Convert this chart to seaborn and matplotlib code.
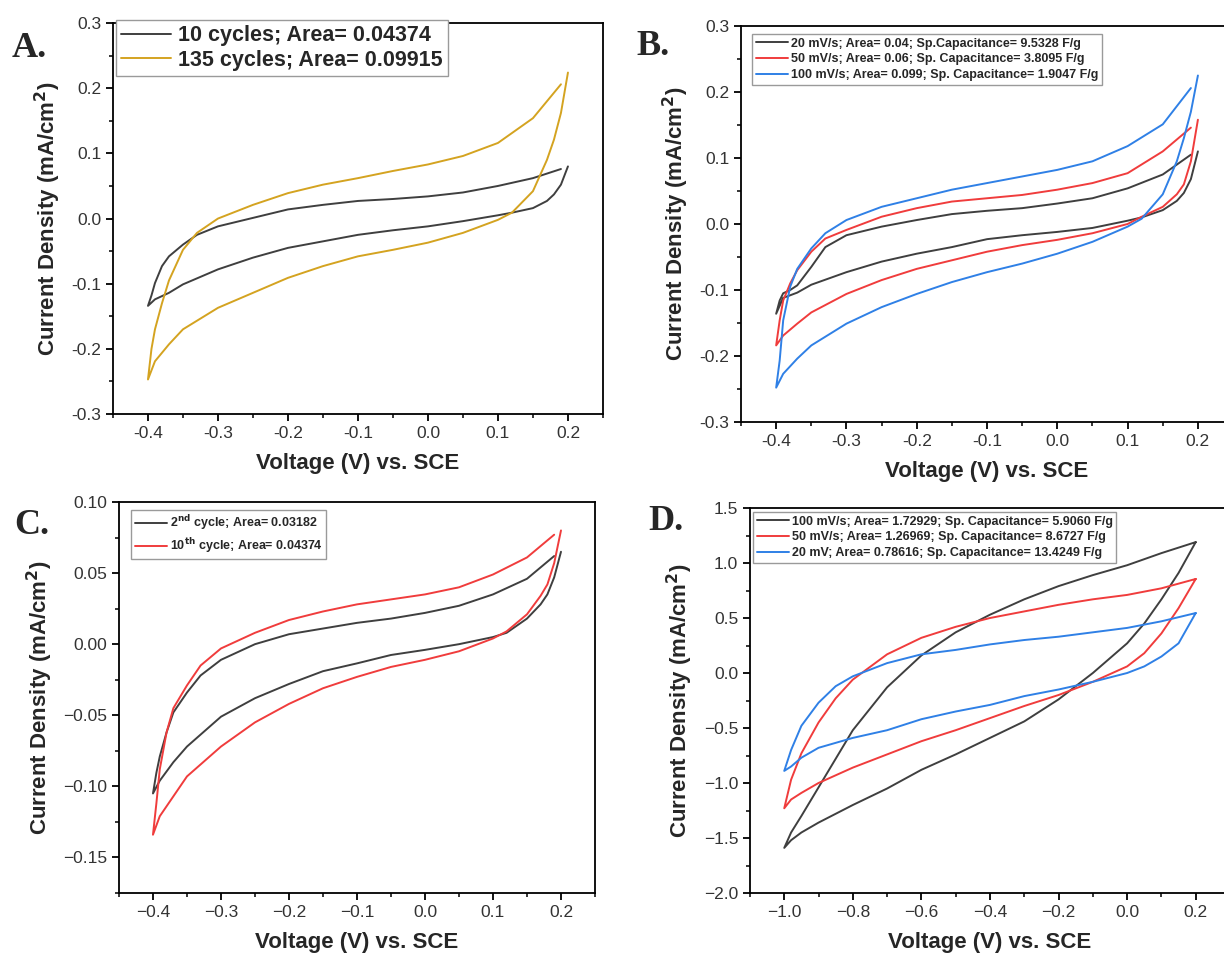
import matplotlib
matplotlib.use("Agg")
import matplotlib.pyplot as plt
import matplotlib.ticker as mticker
import pandas as pd
import seaborn as sns

# ---- data ----
# panels A-C: upper (anodic) branch voltages and lower branch voltages
V_UP = [-0.4, -0.395, -0.39, -0.38, -0.37, -0.35, -0.33, -0.3, -0.25, -0.2,
        -0.15, -0.1, -0.05, 0.0, 0.05, 0.1, 0.15, 0.19]
V_DN = [-0.4, -0.39, -0.37, -0.35, -0.3, -0.25, -0.2, -0.15, -0.1, -0.05,
        0.0, 0.05, 0.1, 0.12, 0.15, 0.17, 0.18, 0.19, 0.2]

# A: 10 vs 135 cycles
a10_up = [-0.134, -0.118, -0.099, -0.073, -0.058, -0.040, -0.025, -0.012, 0.001, 0.014,
          0.021, 0.027, 0.030, 0.034, 0.040, 0.050, 0.062, 0.076]
a10_dn = [-0.134, -0.124, -0.114, -0.101, -0.078, -0.060, -0.045, -0.035, -0.025, -0.018,
          -0.012, -0.004, 0.005, 0.009, 0.016, 0.027, 0.037, 0.052, 0.080]
a135_up = [-0.247, -0.200, -0.170, -0.130, -0.095, -0.048, -0.022, 0.000, 0.021, 0.039,
           0.052, 0.062, 0.073, 0.083, 0.096, 0.116, 0.154, 0.206]
a135_dn = [-0.247, -0.219, -0.193, -0.170, -0.137, -0.114, -0.091, -0.073, -0.058, -0.048,
           -0.037, -0.022, -0.002, 0.009, 0.042, 0.090, 0.121, 0.162, 0.224]

# B: scan rates 20 / 50 / 100 mV/s
b20_up = [-0.136, -0.116, -0.105, -0.100, -0.093, -0.065, -0.035, -0.017, -0.004, 0.006,
          0.015, 0.020, 0.024, 0.031, 0.039, 0.054, 0.075, 0.105]
b20_dn = [-0.136, -0.112, -0.104, -0.092, -0.073, -0.057, -0.045, -0.035, -0.023, -0.017,
          -0.012, -0.006, 0.005, 0.010, 0.021, 0.035, 0.047, 0.068, 0.110]
b50_up = [-0.184, -0.146, -0.116, -0.090, -0.070, -0.042, -0.022, -0.009, 0.011, 0.024,
          0.034, 0.039, 0.044, 0.052, 0.062, 0.077, 0.110, 0.146]
b50_dn = [-0.184, -0.169, -0.151, -0.134, -0.106, -0.085, -0.068, -0.055, -0.042, -0.032,
          -0.024, -0.014, 0.000, 0.011, 0.026, 0.045, 0.060, 0.095, 0.158]
b100_up = [-0.248, -0.207, -0.146, -0.095, -0.068, -0.037, -0.014, 0.006, 0.026, 0.039,
           0.052, 0.062, 0.072, 0.082, 0.095, 0.118, 0.151, 0.206]
b100_dn = [-0.248, -0.227, -0.204, -0.184, -0.151, -0.126, -0.106, -0.088, -0.073, -0.060,
           -0.045, -0.027, -0.004, 0.008, 0.045, 0.095, 0.130, 0.170, 0.225]

# C: 2nd vs 10th cycle
c2_up = [-0.105, -0.0905, -0.079, -0.062, -0.048, -0.034, -0.022, -0.011, 0.000, 0.007,
         0.011, 0.015, 0.018, 0.022, 0.027, 0.035, 0.046, 0.062]
c2_dn = [-0.105, -0.096, -0.083, -0.072, -0.051, -0.038, -0.028, -0.019, -0.0135, -0.0076,
         -0.004, 0.000, 0.005, 0.008, 0.018, 0.028, 0.035, 0.047, 0.065]
c10_up = [-0.134, -0.112, -0.088, -0.062, -0.045, -0.029, -0.015, -0.003, 0.008, 0.017,
          0.023, 0.028, 0.0315, 0.035, 0.040, 0.049, 0.061, 0.077]
c10_dn = [-0.134, -0.121, -0.107, -0.093, -0.072, -0.055, -0.042, -0.031, -0.023, -0.016,
          -0.011, -0.005, 0.004, 0.009, 0.021, 0.034, 0.042, 0.057, 0.080]

# D: wider window
VD_UP = [-1.0, -0.98, -0.95, -0.9, -0.85, -0.8, -0.7, -0.6, -0.5, -0.4, -0.3, -0.2, -0.1, 0.0, 0.1, 0.2]
VD_DN = [-1.0, -0.98, -0.95, -0.9, -0.8, -0.7, -0.6, -0.5, -0.4, -0.3, -0.2, -0.1, 0.0, 0.05, 0.1, 0.15, 0.2]
d100_up = [-1.59, -1.45, -1.30, -1.04, -0.78, -0.52, -0.13, 0.16, 0.37, 0.53, 0.67, 0.79, 0.89, 0.98, 1.09, 1.19]
d100_dn = [-1.59, -1.52, -1.45, -1.36, -1.20, -1.05, -0.88, -0.74, -0.59, -0.44, -0.24, 0.00, 0.27, 0.45, 0.67, 0.91, 1.19]
d50_up = [-1.23, -0.97, -0.73, -0.45, -0.23, -0.06, 0.17, 0.32, 0.42, 0.50, 0.56, 0.62, 0.67, 0.71, 0.77, 0.855]
d50_dn = [-1.23, -1.15, -1.09, -1.00, -0.86, -0.74, -0.62, -0.52, -0.41, -0.30, -0.20, -0.08, 0.06, 0.18, 0.36, 0.59, 0.855]
d20_up = [-0.89, -0.70, -0.48, -0.27, -0.12, -0.03, 0.09, 0.17, 0.21, 0.26, 0.30, 0.33, 0.37, 0.41, 0.47, 0.545]
d20_dn = [-0.89, -0.85, -0.77, -0.68, -0.59, -0.52, -0.42, -0.35, -0.29, -0.21, -0.15, -0.08, 0.00, 0.06, 0.15, 0.27, 0.545]

GRAY = "#3f3f3f"
GOLD = "#d4a320"
RED = "#f03c3c"
BLUE = "#2f80e6"

sns.set_theme(style="ticks")
plt.rcParams["font.family"] = ["Liberation Sans", "DejaVu Sans"]
plt.rcParams["axes.unicode_minus"] = False


def loop(v_up, i_up, v_dn, i_dn):
    # trace the upper branch backwards, then the lower branch forwards
    return pd.DataFrame({"V": v_up[::-1] + v_dn[1:], "I": i_up[::-1] + i_dn[1:]})


def style_axis(ax, xlim, ylim, xmaj, ymaj, yfmt, minus):
    ax.set_xlim(*xlim)
    ax.set_ylim(*ylim)
    ax.xaxis.set_major_locator(mticker.MultipleLocator(xmaj))
    ax.xaxis.set_minor_locator(mticker.MultipleLocator(xmaj / 2))
    ax.yaxis.set_major_locator(mticker.MultipleLocator(ymaj))
    ax.yaxis.set_minor_locator(mticker.MultipleLocator(ymaj / 2))
    ax.xaxis.set_major_formatter(mticker.FuncFormatter(
        lambda v, p: f"{v:.1f}".replace("-", minus) if abs(v) > 1e-9 else "0.0"))
    ax.yaxis.set_major_formatter(mticker.FuncFormatter(
        lambda v, p: f"{v:.{yfmt}f}".replace("-", minus) if abs(v) > 1e-9 else f"{0:.{yfmt}f}"))
    for s in ax.spines.values():
        s.set_linewidth(1.3)
        s.set_color("black")
        s.set_visible(True)
    ax.tick_params(which="major", direction="out", length=5, width=1.3,
                   labelsize=12.5, labelcolor="#333333", color="black")
    ax.tick_params(which="minor", direction="out", length=3, width=1.1, color="black")
    ax.set_xlabel("Voltage (V) vs. SCE", fontsize=16, fontweight="bold", labelpad=9)
    ax.set_ylabel("Current Density (mA/cm$^\\mathbf{2}$)", fontsize=16, fontweight="bold", labelpad=6)
    ax.grid(False)


fig = plt.figure(figsize=(12.24, 9.56), dpi=100)
axA = fig.add_axes([0.0923, 0.5669, 0.4003, 0.4090])
axB = fig.add_axes([0.6054, 0.5586, 0.4020, 0.4142])
axC = fig.add_axes([0.0972, 0.0659, 0.3889, 0.4090])
axD = fig.add_axes([0.6127, 0.0659, 0.3922, 0.4027])

LW = 1.4
small_leg = dict(loc="upper left", borderaxespad=0, fancybox=False, framealpha=1,
                 edgecolor="#9a9a9a", prop={"weight": "bold", "size": 9},
                 handlelength=2.6, handletextpad=0.2, labelspacing=0.3, borderpad=0.3)

# ---- A ----
series_a = [(a10_up, a10_dn, GRAY, "10 cycles; Area= 0.04374"),
            (a135_up, a135_dn, GOLD, "135 cycles; Area= 0.09915")]
for up, dn, col, lab in series_a:
    sns.lineplot(data=loop(V_UP, up, V_DN, dn), x="V", y="I", sort=False, estimator=None,
                 color=col, lw=LW, label=lab, ax=axA)
style_axis(axA, (-0.45, 0.25), (-0.3, 0.3), 0.1, 0.1, 1, "-")
axA.legend(loc="upper left", bbox_to_anchor=(0.006, 1.008), borderaxespad=0, fancybox=False,
           framealpha=1, edgecolor="#9a9a9a", prop={"weight": "bold", "size": 15.5},
           handlelength=2.3, handletextpad=0.35, labelspacing=0.15, borderpad=0.25)

# ---- B ----
series_b = [(b20_up, b20_dn, GRAY, "20 mV/s; Area= 0.04; Sp.Capacitance= 9.5328 F/g"),
            (b50_up, b50_dn, RED, "50 mV/s; Area= 0.06; Sp. Capacitance= 3.8095 F/g"),
            (b100_up, b100_dn, BLUE, "100 mV/s; Area= 0.099; Sp. Capacitance= 1.9047 F/g")]
for up, dn, col, lab in series_b:
    sns.lineplot(data=loop(V_UP, up, V_DN, dn), x="V", y="I", sort=False, estimator=None,
                 color=col, lw=LW, label=lab, ax=axB)
style_axis(axB, (-0.45, 0.25), (-0.3, 0.3), 0.1, 0.1, 1, "-")
axB.legend(bbox_to_anchor=(0.022, 0.98), **small_leg)

# ---- C ----
series_c = [(c2_up, c2_dn, GRAY, "2$^{\\mathbf{nd}}$ cycle; Area= 0.03182"),
            (c10_up, c10_dn, RED, "10$^{\\mathbf{th}}$ cycle; Area= 0.04374")]
for up, dn, col, lab in series_c:
    sns.lineplot(data=loop(V_UP, up, V_DN, dn), x="V", y="I", sort=False, estimator=None,
                 color=col, lw=LW, label=lab, ax=axC)
style_axis(axC, (-0.45, 0.25), (-0.175, 0.10), 0.1, 0.05, 2, "\u2212")
axC.legend(bbox_to_anchor=(0.025, 0.98), **small_leg)

# ---- D ----
series_d = [(d100_up, d100_dn, GRAY, "100 mV/s; Area= 1.72929; Sp. Capacitance= 5.9060 F/g"),
            (d50_up, d50_dn, RED, "50 mV/s; Area= 1.26969; Sp. Capacitance= 8.6727 F/g"),
            (d20_up, d20_dn, BLUE, "20 mV; Area= 0.78616; Sp. Capacitance= 13.4249 F/g")]
for up, dn, col, lab in series_d:
    sns.lineplot(data=loop(VD_UP, up, VD_DN, dn), x="V", y="I", sort=False, estimator=None,
                 color=col, lw=LW, label=lab, ax=axD)
style_axis(axD, (-1.1, 0.3), (-2.0, 1.5), 0.2, 0.5, 1, "\u2212")
axD.legend(bbox_to_anchor=(0.006, 0.99), **small_leg)

# panel letters
letter_font = dict(fontsize=26, fontweight="bold", family=["Liberation Serif", "DejaVu Serif"])
for txt, x, y in [("A.", 12, 57), ("B.", 636, 55), ("C.", 14, 534), ("D.", 648, 530)]:
    fig.text(x / 1224, 1 - y / 956, txt, ha="left", va="baseline", **letter_font)

fig.savefig("out.png", dpi=100)
